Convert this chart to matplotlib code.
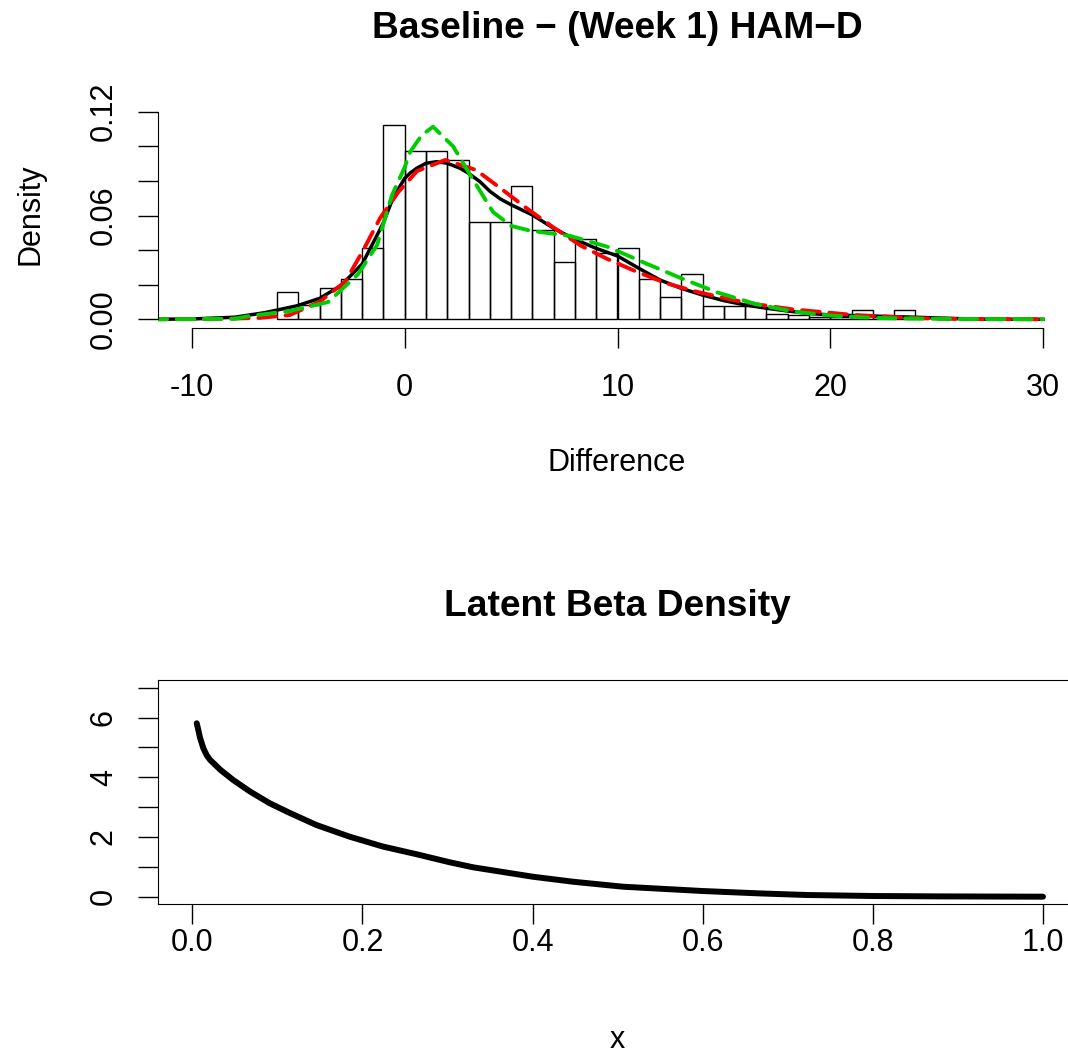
import matplotlib.pyplot as plt

plt.rcParams['font.family'] = ['Liberation Sans', 'DejaVu Sans']

# histogram: unit-width bins, density scale
bin_edges = list(range(-6, 25))
bin_density = [0.0158, 0.0081, 0.0183, 0.0235, 0.0410, 0.1125, 0.0971, 0.0971,
               0.0919, 0.0564, 0.0564, 0.0768, 0.0515, 0.0333, 0.0465, 0.0385,
               0.0411, 0.0231, 0.0131, 0.0260, 0.0077, 0.0077, 0.0077, 0.0030,
               0.0025, 0.0013, 0.0013, 0.0054, 0.0013, 0.0054]

# density estimates
black_x = [-12, -10, -8, -6.6, -5.1, -4, -3, -2, -1.16, -1, -0.54, 0, 0.25, 0.56, 1,
           1.5, 2, 2.6, 3, 3.54, 4, 4.5, 5, 6, 7, 8, 9, 10, 11, 12, 13, 14, 15, 16,
           17, 18, 19, 20, 22, 24, 26, 27, 30]
black_y = [0, 0.0002, 0.0012, 0.0038, 0.0077, 0.0121, 0.0195, 0.032, 0.052, 0.056,
           0.0705, 0.0815, 0.0845, 0.0873, 0.0902, 0.0911, 0.0902, 0.0873, 0.0844,
           0.0795, 0.074, 0.0695, 0.0662, 0.0603, 0.0526, 0.0462, 0.041, 0.0366,
           0.0295, 0.0227, 0.0179, 0.014, 0.0108, 0.0083, 0.0064, 0.0048, 0.0034,
           0.0025, 0.0019, 0.0012, 0.0004, 0.0001, 0]

red_x = [-12, -10, -8.2, -6.8, -5.4, -4, -2.8, -1.95, -1.16, -0.3, 0.58, 1.9, 3.35,
         4.55, 5.75, 7.0, 8.3, 9.5, 10.9, 12.3, 13.7, 15.4, 16.7, 18.2, 19.7, 21.1,
         22.7, 24.2, 26, 30]
red_y = [0, 0.0001, 0.0004, 0.0008, 0.0025, 0.0102, 0.0217, 0.040, 0.0585, 0.0736,
         0.0857, 0.0921, 0.0863, 0.0753, 0.064, 0.053, 0.0424, 0.035, 0.0275, 0.0208,
         0.016, 0.0112, 0.0084, 0.0058, 0.0041, 0.0025, 0.0015, 0.0006, 0.0002, 0]

green_x = [-12, -8, -7.3, -5.4, -3.6, -2.2, -1.3, -0.6, 0, 0.25, 0.8, 1.33, 2.27,
           3.16, 4.15, 5.0, 5.9, 7.77, 9.56, 11.3, 13.0, 14.7, 16.5, 18.3, 20.2,
           22.1, 24, 25.9, 30]
green_y = [0, 0.0003, 0.0019, 0.0048, 0.010, 0.026, 0.043, 0.0718, 0.088, 0.0967,
           0.1065, 0.1113, 0.100, 0.0817, 0.062, 0.054, 0.0512, 0.0482, 0.0418,
           0.0325, 0.0237, 0.0155, 0.0088, 0.0044, 0.002, 0.0008, 0.0004, 0.0002, 0]

beta_x = [0.0052, 0.007, 0.009, 0.013, 0.0169, 0.021, 0.033, 0.048, 0.068, 0.091,
          0.115, 0.146, 0.185, 0.224, 0.264, 0.303, 0.33, 0.4, 0.448, 0.506, 0.6,
          0.667, 0.722, 0.8, 0.878, 1.0]
beta_y = [5.81, 5.59, 5.33, 4.97, 4.74, 4.58, 4.25, 3.91, 3.52, 3.13, 2.80, 2.40,
          2.01, 1.68, 1.42, 1.15, 0.985, 0.67, 0.50, 0.335, 0.19, 0.11, 0.057,
          0.023, 0.01, 0.0]

W, H = 1068, 1054
fig = plt.figure(figsize=(W / 100, H / 100), dpi=100)


def box(l, t, r, b):
    return [l / W, 1 - b / H, (r - l) / W, (b - t) / H]


FS = 22

# top panel
ax1 = fig.add_axes(box(158, 85.4, 1077, 328.3))
ax1.bar(bin_edges[:-1], bin_density, width=1, align='edge', fill=False,
        edgecolor='black', linewidth=1)
ax1.plot(black_x, black_y, color='black', lw=2.5)
ax1.plot(red_x, red_y, color='#FF0000', lw=2.8, ls=(0, (4.5, 2.5)), dash_capstyle='round')
ax1.plot(green_x, green_y, color='#00CD00', lw=2.8, ls=(0, (4.5, 2.5)), dash_capstyle='round')
ax1.set_xlim(-11.6, 31.6)
ax1.set_ylim(-0.0052, 0.1352)
ax1.spines['top'].set_visible(False)
ax1.spines['right'].set_visible(False)
ax1.spines['bottom'].set_bounds(-10, 30)
ax1.spines['left'].set_bounds(0, 0.12)
ax1.set_xticks([-10, 0, 10, 20, 30], ['-10', '0', '10', '20', '30'])
ax1.set_yticks([0, 0.02, 0.04, 0.06, 0.08, 0.10, 0.12],
               ['0.00', '', '', '0.06', '', '', '0.12'], rotation=90, va='center')
ax1.tick_params(length=14.4, width=1, labelsize=FS)
ax1.tick_params(axis='x', pad=17.5)
ax1.tick_params(axis='y', pad=14)

# bottom panel
ax2 = fig.add_axes(box(158.3, 680, 1077, 904.3))
ax2.plot(beta_x, beta_y, color='black', lw=4.3, solid_capstyle='round')
ax2.set_xlim(-0.04, 1.04)
ax2.set_ylim(-0.255, 7.26)
ax2.set_xticks([0, 0.2, 0.4, 0.6, 0.8, 1.0], ['0.0', '0.2', '0.4', '0.6', '0.8', '1.0'])
ax2.set_yticks(range(8), ['0', '', '2', '', '4', '', '6', ''], rotation=90, va='center')
ax2.tick_params(length=14.4, width=1, labelsize=FS)
ax2.tick_params(axis='x', pad=2.5)
ax2.tick_params(axis='y', pad=14)

# titles and axis labels
fig.text(617 / W, 1 - 29 / H, 'Baseline \u2212 (Week 1) HAM\u2212D', ha='center', va='center',
         fontsize=26.7, fontweight='bold')
fig.text(617 / W, 1 - 463 / H, 'Difference', ha='center', va='center', fontsize=FS)
fig.text(30 / W, 1 - 214 / H, 'Density', ha='center', va='center', fontsize=FS, rotation=90)
fig.text(617 / W, 1 - 606 / H, 'Latent Beta Density', ha='center', va='center',
         fontsize=26.7, fontweight='bold')
fig.text(617 / W, 1 - 1040 / H, 'x', ha='center', va='center', fontsize=FS)

fig.savefig('out.png', dpi=100)
